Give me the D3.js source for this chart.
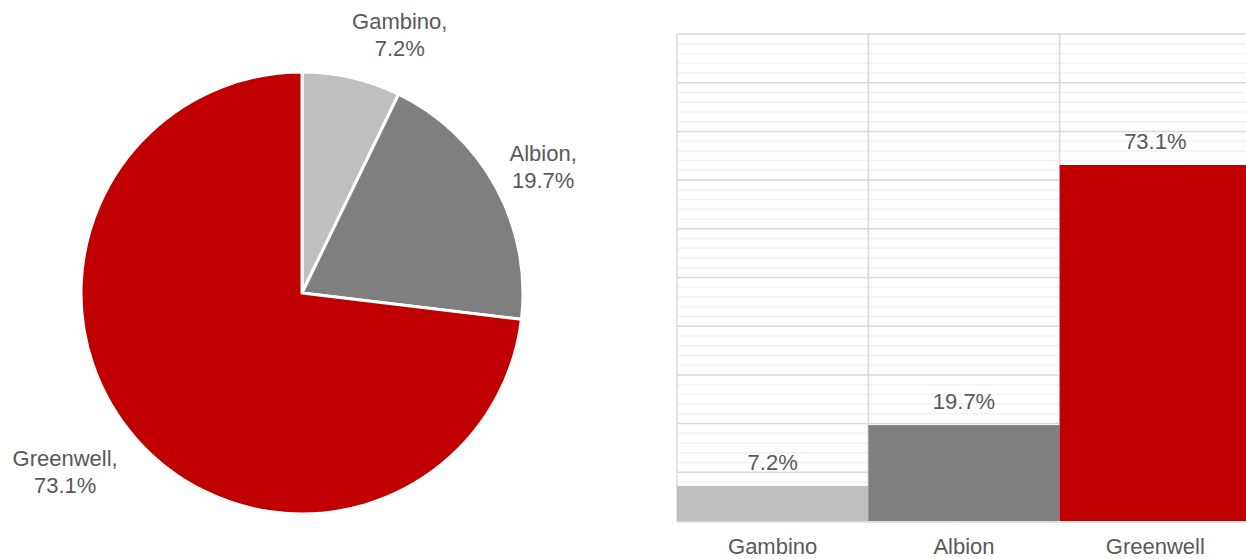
<!DOCTYPE html>
<html>
<head>
<meta charset="utf-8">
<script src="https://cdn.jsdelivr.net/npm/d3@7"></script>
<style>
  body { margin: 0; background: #fff; }
  svg { display: block; }
  text { font-family: "Liberation Sans", Arial, sans-serif; font-size: 22px; fill: #595959; }
</style>
</head>
<body>
<svg id="chart"></svg>
<script>
// data
const companies = ["Gambino", "Albion", "Greenwell"];
const shares = [0.072, 0.197, 0.731];
const colors = ["#bfbfbf", "#7f7f7f", "#c00000"];

const W = 1246, H = 559;
const fmt = d3.format(".1%");

const svg = d3.select("#chart").attr("width", W).attr("height", H);

// ---------- pie ----------
const cx = 302, cy = 293, r = 221;
const pieData = d3.pie().sort(null).value((d) => d)(shares);
const arc = d3.arc().innerRadius(0).outerRadius(r);

const pieG = svg.append("g").attr("transform", `translate(${cx},${cy})`);

pieG.selectAll("path")
  .data(pieData)
  .join("path")
  .attr("d", arc)
  .attr("fill", (d, i) => colors[i])
  .attr("stroke", "#fff")
  .attr("stroke-width", 3)
  .attr("stroke-linejoin", "round");

// labels outside, aligned away from the pie
const lineH = 26.5;
pieG.selectAll(".pie-label")
  .data(pieData)
  .join("g")
  .attr("class", "pie-label")
  .each(function (d, i) {
    const a = (d.startAngle + d.endAngle) / 2;
    const s = Math.sin(a), c = Math.cos(a);
    const ax = (r + 20) * s, ay = -(r + 20) * c;
    const g = d3.select(this);
    const t = g.append("text").attr("text-anchor", "middle");
    t.append("tspan").attr("x", 0).attr("dy", 0).text(companies[i] + ",");
    t.append("tspan").attr("x", 0).attr("dy", lineH).text(fmt(shares[i]));
    const bb = t.node().getBBox();
    const bx = ax + (s >= 0 ? bb.width / 2 : -bb.width / 2) - 4;
    const by = ay - (c * bb.height) / 2 + 2;
    g.attr("transform", `translate(${bx},${by - bb.y - bb.height / 2})`);
  });

// ---------- bars ----------
const plot = { left: 677, right: 1251, top: 34, bottom: 521 };

const x = d3.scaleBand()
  .domain(companies)
  .range([plot.left, plot.right])
  .paddingInner(0)
  .paddingOuter(0);

const y = d3.scaleLinear().domain([0, 1]).range([plot.bottom, plot.top]);

const grid = svg.append("g");

// minor gridlines every 2%
grid.selectAll(".minor")
  .data(d3.range(0, 1.0001, 0.02).filter((v) => Math.round(v * 50) % 5 !== 0))
  .join("line")
  .attr("x1", plot.left)
  .attr("x2", plot.right)
  .attr("y1", (d) => y(d))
  .attr("y2", (d) => y(d))
  .attr("stroke", "#f2f2f2")
  .attr("stroke-width", 1.5);

// major gridlines every 10%
grid.selectAll(".major")
  .data(y.ticks(10))
  .join("line")
  .attr("x1", plot.left)
  .attr("x2", plot.right)
  .attr("y1", (d) => y(d))
  .attr("y2", (d) => y(d))
  .attr("stroke", "#d9d9d9")
  .attr("stroke-width", 1.5);

// vertical lines at category edges
grid.selectAll(".vline")
  .data(companies)
  .join("line")
  .attr("x1", (d) => x(d))
  .attr("x2", (d) => x(d))
  .attr("y1", plot.top)
  .attr("y2", plot.bottom)
  .attr("stroke", "#d9d9d9")
  .attr("stroke-width", 1.5);

svg.append("g")
  .selectAll("rect")
  .data(shares)
  .join("rect")
  .attr("x", (d, i) => x(companies[i]))
  .attr("y", (d) => y(d))
  .attr("width", x.bandwidth())
  .attr("height", (d) => y(0) - y(d))
  .attr("fill", (d, i) => colors[i]);

// baseline
svg.append("line")
  .attr("x1", plot.left)
  .attr("x2", plot.right)
  .attr("y1", y(0) + 1)
  .attr("y2", y(0) + 1)
  .attr("stroke", "#d9d9d9")
  .attr("stroke-width", 1.5);

// value labels
svg.append("g")
  .selectAll("text")
  .data(shares)
  .join("text")
  .attr("x", (d, i) => x(companies[i]) + x.bandwidth() / 2)
  .attr("y", (d) => y(d) - 16)
  .attr("text-anchor", "middle")
  .text((d) => fmt(d));

// category labels
svg.append("g")
  .selectAll("text")
  .data(companies)
  .join("text")
  .attr("x", (d) => x(d) + x.bandwidth() / 2)
  .attr("y", plot.bottom + 33)
  .attr("text-anchor", "middle")
  .text((d) => d);
</script>
</body>
</html>
